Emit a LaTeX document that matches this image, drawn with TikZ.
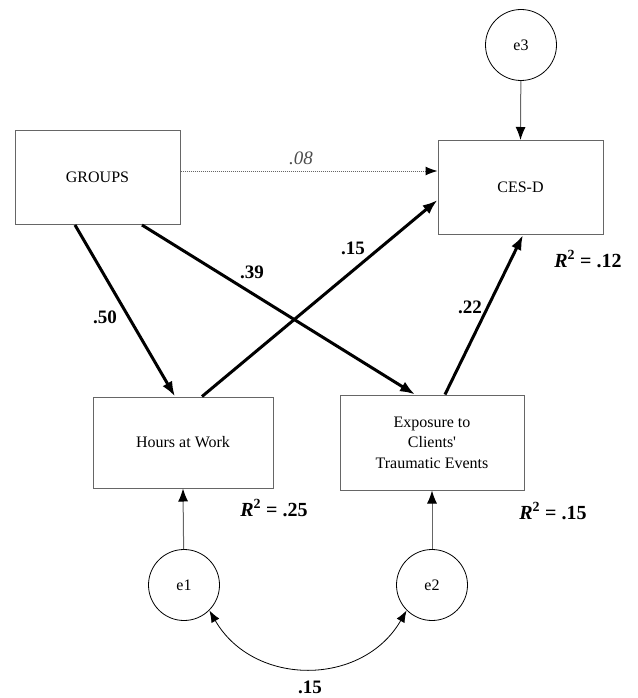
\documentclass[tikz,border=0pt]{standalone}
\usepackage{fontspec}
\setmainfont{Liberation Serif}
\usetikzlibrary{arrows.meta}
\tikzset{
  var/.style 2 args={draw=black!60,line width=1pt,minimum width=#1,minimum height=#2,align=center,font=\rmfamily\fontsize{16}{20.5}\selectfont},
  err/.style={draw,circle,line width=0.8pt,minimum size=71pt,inner sep=0pt,font=\rmfamily\fontsize{16}{19}\selectfont},
  effect/.style={-{Latex[length=15pt,width=11pt]},line width=3pt},
  resid/.style={-{Latex[length=13pt,width=10pt,color=black]},line width=1pt,draw=black!60},
  coef/.style={font=\rmfamily\bfseries\fontsize{19}{22}\selectfont},
  rsq/.style={font=\rmfamily\bfseries\fontsize{20}{23}\selectfont}
}
\def\bw{165pt}
\def\bh{94pt}

\begin{document}
\begin{tikzpicture}[x=1pt,y=-1pt]
  \useasboundingbox (0,0) rectangle (637,698);

  % Observed variables
  \node[var={\bw}{\bh}] (groups) at (97.5,177.5) {GROUPS};
  \node[var={\bw}{\bh}] (cesd) at (520.5,187.5) {CES-D};
  \node[var={180pt}{91pt}] (hours) at (183,442.5) {Hours at Work};
  \node[var={184pt}{95pt}] (expo) at (432,442.5) {Exposure to\\Clients\textquotesingle\\Traumatic Events};

  % Residuals
  \node[err] (e3) at (521,45) {e3};
  \node[err] (e1) at (184,585) {e1};
  \node[err] (e2) at (432,585) {e2};
  \draw[resid] (e3) -- (cesd.north);
  \draw[resid] (e1) -- (hours.south);
  \draw[resid] (e2) -- (expo.south);
  \draw[{Latex[length=12pt,width=9pt]}-{Latex[length=12pt,width=9pt]},line width=0.8pt]
    (e1.-45) to[out=-60,in=-120,looseness=1.15] (e2.-135);
  \node[coef] (c12) at (310,687) {.15};

  % Paths
  \draw[-{Latex[length=12pt,width=9pt,color=black]},black!60,line width=1pt,densely dotted]
    ([yshift=6.5pt]groups.east) -- ([yshift=16.5pt]cesd.west);
  \node[font=\rmfamily\itshape\fontsize{19}{22}\selectfont,black!70] (c08) at (301,158) {.08};
  \draw[effect] ([xshift=-22.5pt]groups.south) -- ([xshift=-8pt]hours.north);
  \node[coef] (c50) at (105,317) {.50};
  \draw[effect] ([xshift=44.5pt]groups.south) -- ([xshift=-17pt]expo.north);
  \node[coef] (c39) at (252,272) {.39};
  \draw[effect] ([xshift=19pt]hours.north) -- ([yshift=-12.5pt]cesd.west);
  \node[coef] (c15) at (353,248) {.15};
  \draw[effect] ([xshift=13pt]expo.north) -- ([xshift=2.5pt]cesd.south);
  \node[coef] (c22) at (470,307) {.22};

  % Explained variance
  \node[rsq] (r2c) at (588,259) {\textit{R}\textsuperscript{2} = .12};
  \node[rsq] (r2h) at (274,508) {\textit{R}\textsuperscript{2} = .25};
  \node[rsq] (r2e) at (553,511) {\textit{R}\textsuperscript{2} = .15};
\end{tikzpicture}
\end{document}
